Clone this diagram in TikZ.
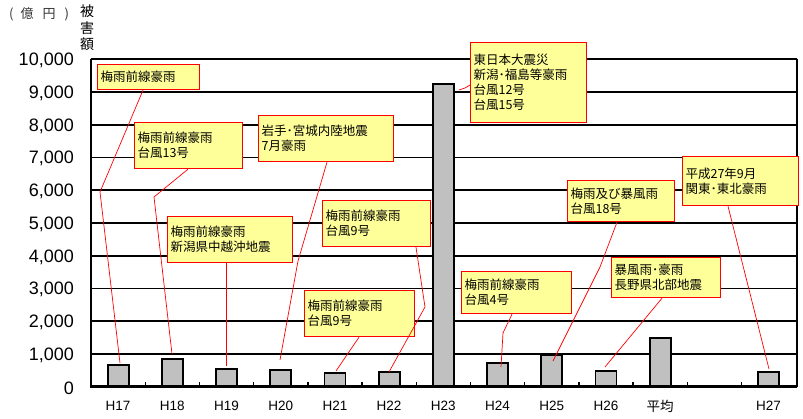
\documentclass[tikz,border=0pt]{standalone}
\usepackage{fontspec}
\setmainfont{Liberation Sans}
\newfontfamily\jp{Noto Sans CJK JP}
\definecolor{barfill}{HTML}{C0C0C0}
\definecolor{callfill}{HTML}{FFFF99}
\begin{document}
\begin{tikzpicture}[x=1pt,y=-1pt,
  gridline/.style={black, line width=1.6pt},
  axisline/.style={black, line width=2.6pt},
  tickline/.style={black, line width=1.4pt},
  barbox/.style={draw=black, fill=barfill, line width=1.8pt, minimum width=21pt, inner sep=0pt, anchor=south},
  conn/.style={red, line width=0.7pt},
  callout/.style={draw=red, fill=callfill, line width=1.2pt, anchor=north west, align=left,
    inner xsep=3pt, inner ysep=0pt, font=\jp\fontsize{12.5}{15}\selectfont},
  ylab/.style={anchor=east, inner sep=0pt, font=\fontsize{18}{18}\selectfont},
  xlab/.style={anchor=center, inner sep=0pt, font=\fontsize{13.5}{13.5}\selectfont}
]
\useasboundingbox (0,0) rectangle (803,419);
\fill[white] (0,0) rectangle (803,419);

% units
\node[anchor=west, inner sep=0pt, text=black!80, font=\jp\fontsize{13}{13}\selectfont] (unit) at (9,14) {(\hspace{7pt}億\hspace{9pt}円\hspace{9pt})};
\node[align=center, inner sep=0pt, font=\jp\fontsize{14}{16.5}\selectfont] (ttl) at (87,28) {被\\害\\額};

% gridlines
\foreach \v in {1,...,10}
  \draw[gridline] (91,{386.7-\v*32.74}) -- (797,{386.7-\v*32.74});
\draw[gridline] (797,59.3) -- (797,386.7);

% y labels
\node[ylab] (y0)  at (74,388) {0};
\node[ylab] (y1)  at (74,{388-1*32.74}) {1,000};
\node[ylab] (y2)  at (74,{388-2*32.74}) {2,000};
\node[ylab] (y3)  at (74,{388-3*32.74}) {3,000};
\node[ylab] (y4)  at (74,{388-4*32.74}) {4,000};
\node[ylab] (y5)  at (74,{388-5*32.74}) {5,000};
\node[ylab] (y6)  at (74,{388-6*32.74}) {6,000};
\node[ylab] (y7)  at (74,{388-7*32.74}) {7,000};
\node[ylab] (y8)  at (74,{388-8*32.74}) {8,000};
\node[ylab] (y9)  at (74,{388-9*32.74}) {9,000};
\node[ylab] (y10) at (74,{388-10*32.74}) {10,000};

% bars
\node[barbox, minimum height=20.9pt]  (h17) at (118.1,386.7) {};
\node[barbox, minimum height=26.7pt]  (h18) at (172.3,386.7) {};
\node[barbox, minimum height=16.7pt]  (h19) at (226.5,386.7) {};
\node[barbox, minimum height=15.7pt]  (h20) at (280.7,386.7) {};
\node[barbox, minimum height=13.1pt]  (h21) at (334.9,386.7) {};
\node[barbox, minimum height=14.1pt]  (h22) at (389.1,386.7) {};
\node[barbox, minimum height=301.4pt] (h23) at (443.3,386.7) {};
\node[barbox, minimum height=22.6pt]  (h24) at (497.5,386.7) {};
\node[barbox, minimum height=30.8pt]  (h25) at (551.7,386.7) {};
\node[barbox, minimum height=15.1pt]  (h26) at (605.9,386.7) {};
\node[barbox, minimum height=47.5pt]  (avg) at (660.1,386.7) {};
\node[barbox, minimum height=14.1pt]  (h27) at (768.5,386.7) {};

% axes and ticks
\draw[axisline] (91,59.3) -- (91,386.7) -- (797,386.7);
\foreach \k in {1,...,12}
  \draw[tickline] ({91+54.2*\k},386.7) -- ++(0,-5);

% x labels
\node[xlab] (lh17) at (118.1,406) {H17};
\node[xlab] (lh18) at (172.3,406) {H18};
\node[xlab] (lh19) at (226.5,406) {H19};
\node[xlab] (lh20) at (280.7,406) {H20};
\node[xlab] (lh21) at (334.9,406) {H21};
\node[xlab] (lh22) at (389.1,406) {H22};
\node[xlab] (lh23) at (443.3,406) {H23};
\node[xlab] (lh24) at (497.5,406) {H24};
\node[xlab] (lh25) at (551.7,406) {H25};
\node[xlab] (lh26) at (605.9,406) {H26};
\node[xlab, font=\jp\fontsize{13.5}{13.5}\selectfont] (lavg) at (660.1,406) {平均};
\node[xlab] (lh27) at (768.5,406) {H27};

% callouts
\node[callout, text width=96pt,  minimum height=25pt] (b1)  at (97,64)   {梅雨前線豪雨};
\node[callout, text width=102pt, minimum height=46pt] (b2)  at (134,122) {梅雨前線豪雨\\台風13号};
\node[callout, text width=129pt, minimum height=46pt] (b3)  at (258,115) {岩手･宮城内陸地震\\7月豪雨};
\node[callout, text width=119pt, minimum height=46pt] (b4)  at (167,216) {梅雨前線豪雨\\新潟県中越沖地震};
\node[callout, text width=102pt, minimum height=46pt] (b5)  at (322,200) {梅雨前線豪雨\\台風9号};
\node[callout, text width=104pt, minimum height=46pt] (b6)  at (304,290) {梅雨前線豪雨\\台風9号};
\node[callout, text width=110pt, minimum height=80pt] (b7)  at (470,42)  {東日本大震災\\新潟･福島等豪雨\\台風12号\\台風15号};
\node[callout, text width=104pt, minimum height=42pt] (b8)  at (461,271) {梅雨前線豪雨\\台風4号};
\node[callout, text width=101pt, minimum height=41pt] (b9)  at (567,180) {梅雨及び暴風雨\\台風18号};
\node[callout, text width=103pt, minimum height=40pt] (b10) at (611,257) {暴風雨･豪雨\\長野県北部地震};
\node[callout, text width=110pt, minimum height=49pt] (b11) at (682,156) {平成27年9月\\関東･東北豪雨};

% connector bends and ends
\coordinate (k1) at (100,192);  \coordinate (e1) at (120,363);
\coordinate (k2) at (154,197);  \coordinate (e2) at (172,354);
\coordinate (k3) at (298,261);  \coordinate (e3) at (280,360);
\coordinate (e4) at (226,366);
\coordinate (k5) at (425,307);  \coordinate (e5) at (389,372);
\coordinate (e6) at (336,371);
\coordinate (k7) at (465,88);   \coordinate (e7) at (459,90);
\coordinate (k8) at (503,333);  \coordinate (e8) at (501,367);
\coordinate (k9) at (600,267);  \coordinate (e9) at (553,361);
\coordinate (e10) at (605,367);
\coordinate (e11) at (769,369);

\draw[conn] ([xshift=46pt]b1.south west) -- (k1) -- (e1);
\draw[conn] ([xshift=54pt]b2.south west) -- (k2) -- (e2);
\draw[conn] ([xshift=69pt]b3.south west) -- (k3) -- (e3);
\draw[conn] ([xshift=59pt]b4.south west) -- (e4);
\draw[conn] ([xshift=94pt]b5.south west) -- (k5) -- (e5);
\draw[conn] ([xshift=55pt]b6.south west) -- (e6);
\draw[conn] ([yshift=-43pt]b7.north west) -- (k7) -- (e7);
\draw[conn] ([xshift=51pt]b8.south west) -- (k8) -- (e8);
\draw[conn] ([xshift=50pt]b9.south west) -- (k9) -- (e9);
\draw[conn] ([xshift=51pt]b10.south west) -- (e10);
\draw[conn] ([xshift=46pt]b11.south west) -- (e11);
\end{tikzpicture}
\end{document}
